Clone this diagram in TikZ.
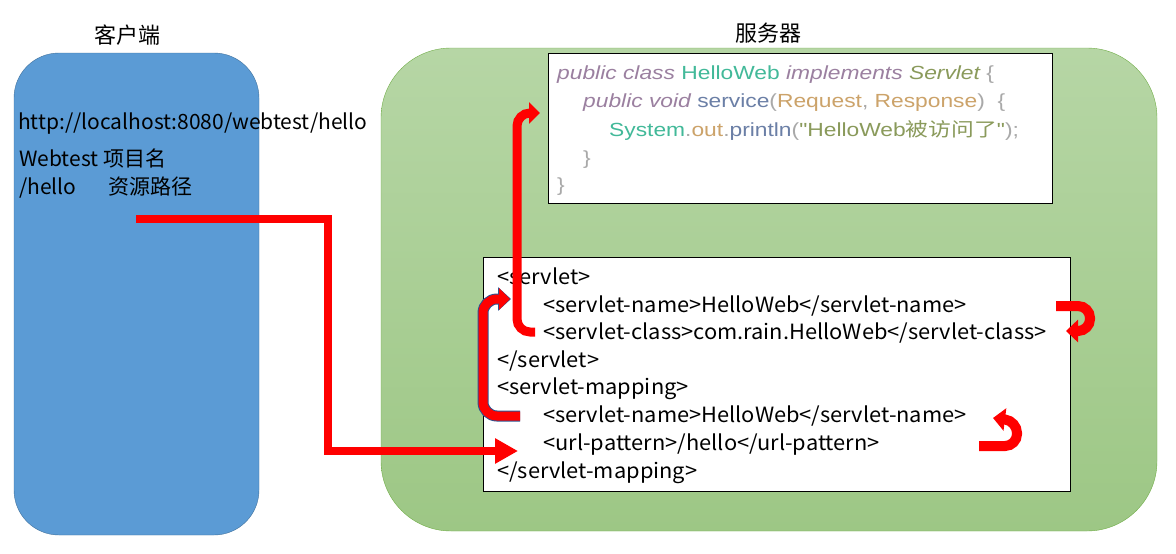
\documentclass[tikz,border=0pt]{standalone}
\usepackage{fontspec}
\setmainfont{Liberation Sans}
\newfontfamily\cjk{Noto Sans CJK SC}
\newfontfamily\xmlcjk[FakeStretch=1.04]{Noto Sans CJK SC}
\newfontfamily\codefont[FakeStretch=1.2]{Liberation Sans}
\newfontfamily\codecjk[FakeStretch=1.2]{Noto Sans CJK SC}
\usetikzlibrary{arrows.meta}
\usetikzlibrary{positioning}

\definecolor{clientblue}{RGB}{91,155,213}
\definecolor{clientedge}{RGB}{65,113,156}
\definecolor{servertop}{RGB}{182,214,165}
\definecolor{serverbot}{RGB}{157,199,133}
\definecolor{serveredge}{RGB}{112,173,71}
\definecolor{kwcol}{RGB}{155,128,160}
\definecolor{clscol}{RGB}{66,185,153}
\definecolor{olvcol}{RGB}{138,154,91}
\definecolor{parcol}{RGB}{204,163,106}
\definecolor{methcol}{RGB}{107,127,166}
\definecolor{grycol}{RGB}{169,169,169}
\definecolor{flowedge}{RGB}{47,82,143}

\newcommand\xmlfont{\xmlcjk\fontsize{21}{25}\selectfont}
\newcommand\codesize{\codefont\fontsize{19}{23}\selectfont}

\begin{document}
\begin{tikzpicture}[
  x=1pt, y=-1pt,
  client/.style = {draw=clientedge, fill=clientblue, rounded corners=45pt},
  server/.style = {draw=serveredge, top color=servertop, bottom color=serverbot, rounded corners=70pt},
  panel/.style = {draw=black, fill=white, inner sep=0pt},
  title/.style = {font=\cjk\fontsize{22}{26}\selectfont},
  urlline/.style = {anchor=west, inner sep=0pt, text height=16pt, text depth=5pt, font=\cjk\fontsize{21}{25}\selectfont},
  xmlline/.style = {anchor=west, inner sep=0pt, text height=15pt, text depth=4pt, font=\xmlfont},
  codeline/.style = {anchor=west, inner sep=0pt, text height=15pt, text depth=4pt, font=\codesize, color=grycol},
  flow/.style = {draw=red, line width=9pt, -{Triangle[width=21pt,length=11pt]}},
  bigflow/.style = {draw=red, line width=8pt, -{Triangle[width=24pt,length=23pt]}},
  turn/.style = {draw=red, line width=10pt, rounded corners=12pt, -{Triangle[width=22pt,length=12pt]}}
  ]
  \useasboundingbox (0,0) rectangle (1176,554);

  % client and server areas
  \node[client, minimum width=245pt, minimum height=482pt] (clientbox) at (136.5,294) {};
  \node[server, minimum width=776pt, minimum height=483pt] (serverbox) at (769,289.5) {};
  \node[title] (clientlbl) at (127,35) {客户端};
  \node[title] (serverlbl) at (768,33) {服务器};

  \node[urlline] (url) at (18,124) {http://localhost:8080/webtest/hello};
  \node[urlline] (proj) at (19,161) {Webtest 项目名};
  \node[urlline] (res) at (19,189) {\makebox[89pt][l]{/hello}资源路径};

  % servlet class
  \node[panel, minimum width=504pt, minimum height=150pt] (codebox) at (800,128) {};
  \node[codeline] (c1) at (557,74) {{\color{kwcol}\itshape public class} {\color{clscol}HelloWeb} {\color{kwcol}\itshape implements} {\color{olvcol}\itshape Servlet} \{};
  \node[codeline] (c2) at (583,102) {{\color{kwcol}\itshape public void} {\color{methcol}service}({\color{parcol}Request}, {\color{parcol}Response})\ \ \{};
  \node[codeline] (c3) at (609,131) {{\color{clscol}System}.{\color{parcol}out}.{\color{methcol}println}({\color{olvcol}"HelloWeb{\codecjk 被访问了}"});};
  \node[codeline] (c4) at (583,159) {\}};
  \node[codeline] (c5) at (557,186) {\}};

  % web.xml
  \node[panel, minimum width=587pt, minimum height=234pt] (xmlbox) at (776.5,374) {};
  \node[xmlline] (x1) at (497,279) {<servlet>};
  \node[xmlline] (x2) at (543,307) {<servlet-name>HelloWeb</servlet-name>};
  \node[xmlline] (x3) at (543,334) {<servlet-class>com.rain.HelloWeb</servlet-class>};
  \node[xmlline] (x4) at (497,362) {</servlet>};
  \node[xmlline] (x5) at (497,389) {<servlet-mapping>};
  \node[xmlline] (x6) at (543,417) {<servlet-name>HelloWeb</servlet-name>};
  \node[xmlline] (x7) at (543,445) {<url-pattern>/hello</url-pattern>};
  \node[xmlline] (x8) at (497,473) {</servlet-mapping>};

  \coordinate (src) at (136,219);
  \coordinate (bend) at (328,219);
  \coordinate (codein) at (540,113);
  \coordinate (namein) at (510,299);
  \coordinate (turnA) at (1056,306);
  \coordinate (turnB) at (979,446);

  % request path
  \draw[bigflow] (src) -- (bend) |- ([xshift=-25pt,yshift=-6pt]x7.west);
  \draw[flow, draw=flowedge, line width=11pt, rounded corners=14pt, -{Triangle[width=23pt,length=13pt]}]
    ([xshift=-23pt,yshift=1pt]x6.west) -| ([xshift=-27pt]namein) -- ([xshift=1pt]namein);
  \draw[flow, rounded corners=14pt] ([xshift=-23pt,yshift=1pt]x6.west) -| ([xshift=-27pt]namein) -- (namein);
  \draw[flow, rounded corners=13pt] ([xshift=-8pt,yshift=2pt]x3.west) -| ([xshift=-23pt]codein) -- (codein);
  \draw[turn] (turnA) -- ++(34,0) -- ++(0,25) -- ++(-24,0);
  \draw[turn] (turnB) -- ++(38,0) -- ++(0,-25) -- ++(-24,-3);

\end{tikzpicture}
\end{document}
